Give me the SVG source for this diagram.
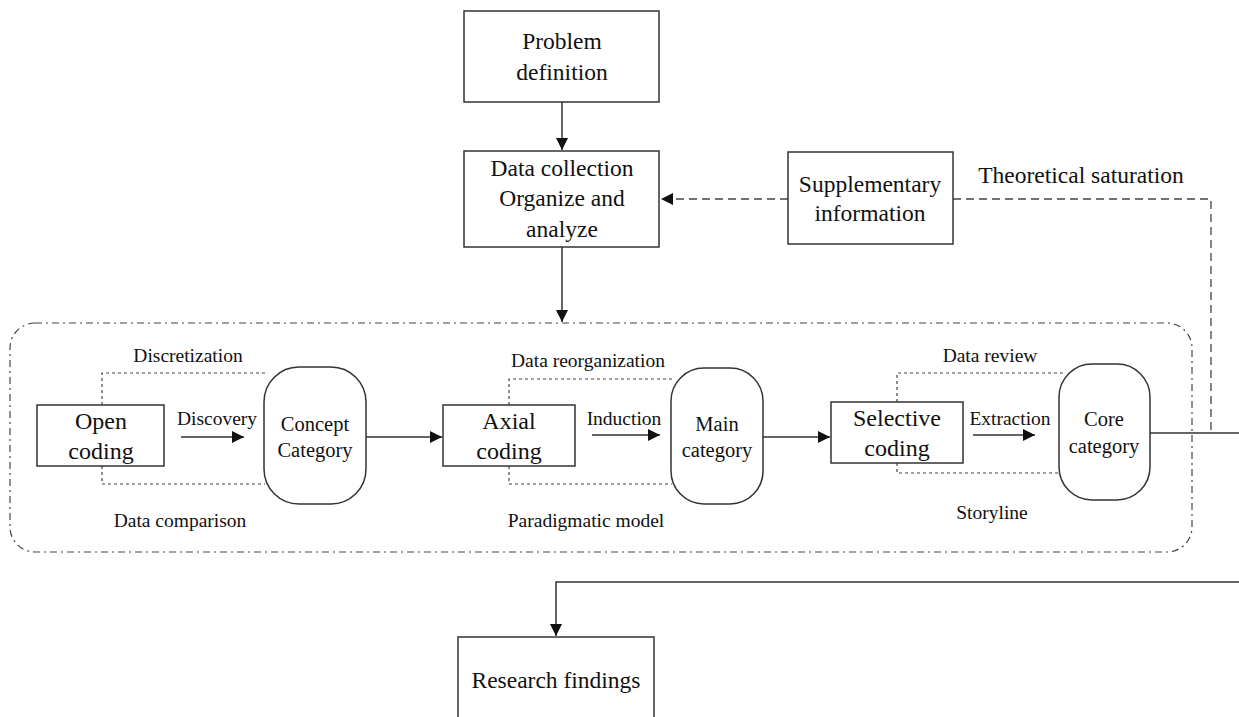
<svg xmlns="http://www.w3.org/2000/svg" width="1239" height="717" viewBox="0 0 1239 717">
<style>
text{font-family:"Liberation Serif","Times New Roman",serif;fill:#111;text-anchor:middle}
.big{font-size:23.5px}
.cd{font-size:24px}
.sm{font-size:20.5px}
.lb{font-size:19.5px}
.box{fill:#fff;stroke:#333;stroke-width:1.5}
.ln{fill:none;stroke:#333;stroke-width:1.5}
.dash{fill:none;stroke:#444;stroke-width:1.3;stroke-dasharray:8 5}
.dot{fill:none;stroke:#444;stroke-width:1.2;stroke-dasharray:3 3}
.dd{fill:none;stroke:#444;stroke-width:1.2;stroke-dasharray:7 4 2 4}
</style>
<defs>
<marker id="ah" viewBox="0 0 10 10" refX="10" refY="5" markerWidth="20" markerHeight="12" markerUnits="userSpaceOnUse" orient="auto">
<path d="M0,0 L10,5 L0,10 Z" fill="#111"/>
</marker>
</defs>
<rect width="1239" height="717" fill="#fff"/>
<g id="container"><rect class="dd" x="10" y="323" width="1182" height="229" rx="25"/></g>
<g id="connectors">
<line class="ln" x1="562" y1="102" x2="562" y2="150" marker-end="url(#ah)"/>
<line class="ln" x1="562" y1="247" x2="562" y2="322" marker-end="url(#ah)"/>
<line class="dash" x1="788" y1="199" x2="661" y2="199" marker-end="url(#ah)"/>
<polyline class="dash" points="953,199 1211,199 1211,433"/>
<line class="ln" x1="1150" y1="433" x2="1239" y2="433"/>
<polyline class="ln" points="1239,582 556,582 556,636" marker-end="url(#ah)"/>
<line class="ln" x1="366" y1="437" x2="442" y2="437" marker-end="url(#ah)"/>
<line class="ln" x1="763" y1="437" x2="830" y2="437" marker-end="url(#ah)"/>
<line class="ln" x1="181" y1="437" x2="244" y2="437" marker-end="url(#ah)"/>
<line class="ln" x1="592" y1="435" x2="660" y2="435" marker-end="url(#ah)"/>
<line class="ln" x1="973" y1="435" x2="1035" y2="435" marker-end="url(#ah)"/>
<polyline class="dot" points="102,405 102,373 265,373"/>
<polyline class="dot" points="102,466 102,484 265,484"/>
<polyline class="dot" points="509,405 509,379 674,379"/>
<polyline class="dot" points="509,466 509,484 672,484"/>
<polyline class="dot" points="897,402 897,373 1064,373"/>
<polyline class="dot" points="897,463 897,473 1060,473"/>
</g>
<g id="problem"><rect class="box" x="464" y="11" width="195" height="91"/><text class="big" x="562" y="49">Problem</text><text class="big" x="562" y="80">definition</text></g>
<g id="datacollection"><rect class="box" x="464" y="151" width="195" height="96"/><text class="big" x="562" y="176">Data collection</text><text class="big" x="562" y="206">Organize and</text><text class="big" x="562" y="237">analyze</text></g>
<g id="supplementary"><rect class="box" x="788" y="152" width="165" height="92"/><text class="big" x="870" y="192">Supplementary</text><text class="big" x="870" y="221">information</text></g>
<text class="big" x="1081" y="183">Theoretical saturation</text>
<g id="opencoding"><rect class="box" x="37" y="405" width="127" height="61"/><text class="cd" x="101" y="429">Open</text><text class="cd" x="101" y="459">coding</text></g>
<g id="concept"><rect class="box" x="264" y="367" width="102" height="137" rx="35"/><text class="sm" x="315" y="431">Concept</text><text class="sm" x="315" y="457">Category</text></g>
<g id="axial"><rect class="box" x="443" y="405" width="132" height="61"/><text class="cd" x="509" y="429">Axial</text><text class="cd" x="509" y="459">coding</text></g>
<g id="main"><rect class="box" x="671" y="368" width="92" height="136" rx="33"/><text class="sm" x="717" y="431">Main</text><text class="sm" x="717" y="457">category</text></g>
<g id="selective"><rect class="box" x="831" y="402" width="132" height="61"/><text class="cd" x="897" y="426">Selective</text><text class="cd" x="897" y="456">coding</text></g>
<g id="core"><rect class="box" x="1059" y="364" width="91" height="136" rx="33"/><text class="sm" x="1104" y="426">Core</text><text class="sm" x="1104" y="453">category</text></g>
<g id="labels">
<text class="lb" x="188" y="362">Discretization</text>
<text class="lb" x="217" y="425">Discovery</text>
<text class="lb" x="180" y="527">Data comparison</text>
<text class="lb" x="588" y="367">Data reorganization</text>
<text class="lb" x="624" y="425">Induction</text>
<text class="lb" x="586" y="527">Paradigmatic model</text>
<text class="lb" x="990" y="362">Data review</text>
<text class="lb" x="1010" y="425">Extraction</text>
<text class="lb" x="992" y="519">Storyline</text>
</g>
<g id="research"><rect class="box" x="458" y="637" width="196" height="90"/><text class="big" x="556" y="688">Research findings</text></g>
</svg>
